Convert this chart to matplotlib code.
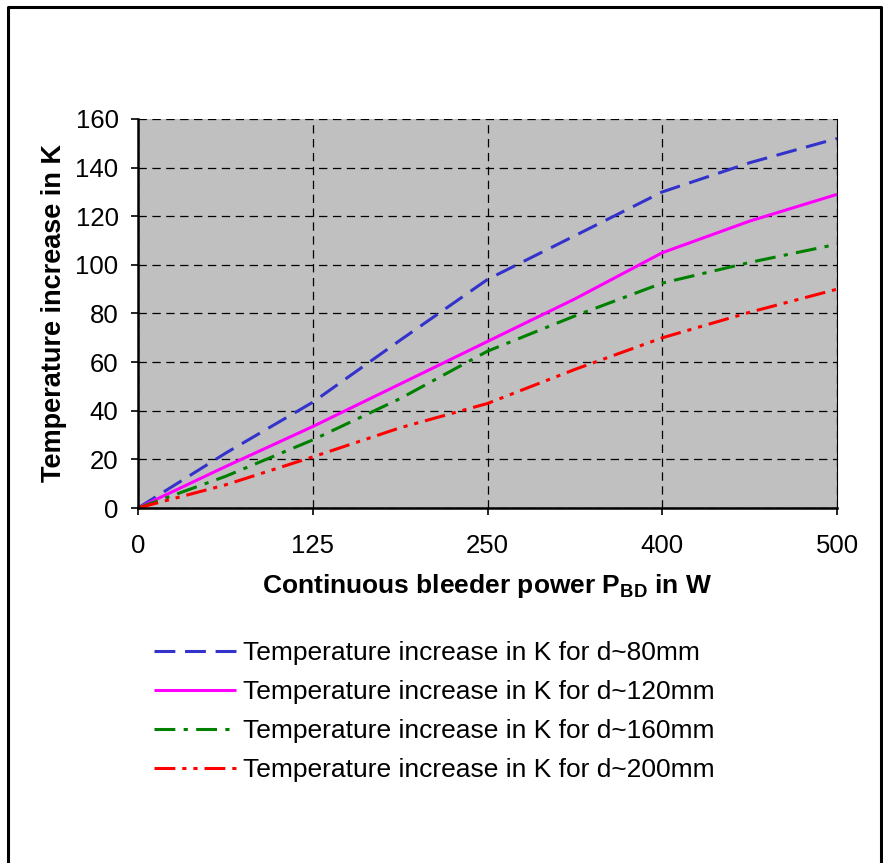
import matplotlib
matplotlib.use("Agg")
import matplotlib.pyplot as plt
from matplotlib.lines import Line2D
import numpy as np

plt.rcParams['font.family'] = ['Liberation Sans', 'DejaVu Sans']
plt.rcParams['lines.scale_dashes'] = False
plt.rcParams['mathtext.fontset'] = 'custom'
plt.rcParams['mathtext.rm'] = 'Liberation Sans'
plt.rcParams['mathtext.bf'] = 'Liberation Sans:bold'

# category axis: positions of samples (index units), labelled ticks
x_pos = [0, 0.5, 1, 1.5, 2, 2.5, 3, 3.5, 4]
tick_pos = [0, 1, 2, 3, 4]
tick_labels = ["0", "125", "250", "400", "500"]

d80 = [0, 22.5, 43.5, 69, 94, 112, 130, 142, 152]
d120 = [0, 17, 33.5, 51, 68.5, 86, 105, 118, 129]
d160 = [0, 13, 28, 45, 64.5, 79, 92.5, 101, 108.5]
d200 = [0, 9.5, 21, 33, 43, 57, 70, 80.5, 90]

labels = ["Temperature increase in K for d~80mm",
          "Temperature increase in K for d~120mm",
          "Temperature increase in K for d~160mm",
          "Temperature increase in K for d~200mm"]

W, H = 883, 863
fig = plt.figure(figsize=(W / 100, H / 100), dpi=100)
ax = fig.add_axes([138 / W, 1 - 508 / H, 699 / W, 389 / H])
ax.set_facecolor('#C0C0C0')

lw = 2.2
l1, = ax.plot(x_pos, d80, color='#3333CC', lw=lw, linestyle=(0, (15, 7)), label=labels[0])
l2, = ax.plot(x_pos, d120, color='#FF00FF', lw=lw, linestyle='-', label=labels[1])
l3, = ax.plot(x_pos, d160, color='#008000', lw=lw, linestyle=(0, (15, 6, 3, 6)), label=labels[2])
l4, = ax.plot(x_pos, d200, color='#FF0000', lw=lw, linestyle=(0, (15, 5, 3, 5, 3, 5)), label=labels[3])
for l in (l1, l2, l3, l4):
    l.set_clip_on(False)
    l.set_solid_capstyle('butt')
    l.set_dash_capstyle('butt')

ax.set_xlim(0, 4)
ax.set_ylim(0, 160)
ax.set_xticks(tick_pos)
ax.set_xticklabels(tick_labels)
ax.set_yticks(np.arange(0, 161, 20))
ax.tick_params(axis='both', direction='out', length=5, width=1.2, labelsize=18.5, colors='black')
ax.tick_params(axis='x', pad=14)
ax.tick_params(axis='y', pad=9)

ax.grid(True, color='black', linestyle=(0, (6, 4)), linewidth=0.9)
ax.set_axisbelow(True)

ax.spines['left'].set_linewidth(1.8)
ax.spines['bottom'].set_linewidth(1.8)
ax.spines['right'].set_linewidth(0.8)
ax.spines['top'].set_visible(False)

ax.set_ylabel("Temperature increase in K", fontsize=19.5, fontweight='bold', labelpad=6)
ax.set_xlabel(r"Continuous bleeder power P$_{\mathbf{BD}}$ in W", fontsize=19, fontweight='bold', labelpad=10)

leg = fig.legend(handles=[l1, l2, l3, l4], loc='upper left',
                 bbox_to_anchor=(130 / W, 1 - 617 / H), frameon=False,
                 fontsize=19, handlelength=3.1, handletextpad=0.3, labelspacing=0.57)

# frame around figure (left, top, right)
fx = [8 / W, 8 / W, 881 / W, 881 / W]
fy = [-0.01, 1 - 7 / H, 1 - 7 / H, -0.01]
fig.add_artist(Line2D(fx, fy, transform=fig.transFigure, color='black', lw=2.2))

fig.savefig("out.png", dpi=100)
